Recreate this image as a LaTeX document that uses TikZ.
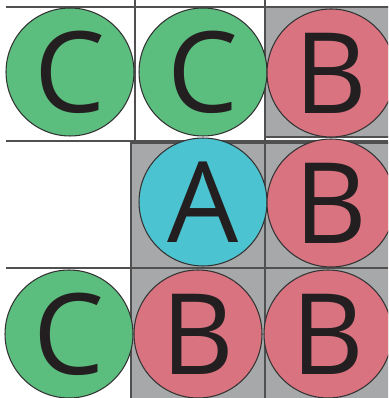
\documentclass[tikz,border=0pt]{standalone}
\usepackage{fontspec}
\setmainfont{Open Sans}
\definecolor{ballgreen}{RGB}{92,190,126}
\definecolor{ballred}{RGB}{217,115,128}
\definecolor{ballblue}{RGB}{76,195,208}
\definecolor{cellgray}{RGB}{166,168,170}
\definecolor{gridline}{RGB}{80,80,80}
\definecolor{letter}{RGB}{35,31,32}
\tikzset{
  ball/.style={circle, draw=black!80, line width=0.6pt, minimum size=2.56cm, inner sep=0pt, text=letter, font=\fontsize{64}{64}\selectfont},
  greenball/.style={ball, fill=ballgreen},
  redball/.style={ball, fill=ballred},
  blueball/.style={ball, fill=ballblue},
  gridrule/.style={draw=gridline, line width=0.9pt}
}
\begin{document}
\begin{tikzpicture}[x=0.02cm, y=-0.02cm]
        \useasboundingbox (0,0) rectangle (388,398);
        \clip (0,0) rectangle (388,398);
        \fill[white] (0,0) rectangle (388,398);

        % Gray cells
        \filldraw[fill=cellgray, gridrule] (265,7) rectangle (392,137);
        \filldraw[fill=cellgray, gridrule] (131,143) rectangle (392,402);

        % Grid
        \draw[gridrule] (6,7) -- (388,7);
        \draw[gridrule] (6,141) -- (388,141);
        \draw[gridrule] (6,268) -- (388,268);
        \draw[gridrule] (135,0) -- (135,143);
        \draw[gridrule] (265,0) -- (265,398);

        % Top row
        \node[greenball] (c1) at (70,72) {C};
        \node[greenball] (c2) at (203,72) {C};
        \node[redball] (b1) at (331,73) {B};

        % Middle row
        \node[blueball] (a) at (203,202) {A};
        \node[redball] (b2) at (331,203) {B};

        % Bottom row
        \node[greenball] (c3) at (69,334) {C};
        \node[redball] (b3) at (198,334) {B};
        \node[redball] (b4) at (328,334) {B};
\end{tikzpicture}
\end{document}
